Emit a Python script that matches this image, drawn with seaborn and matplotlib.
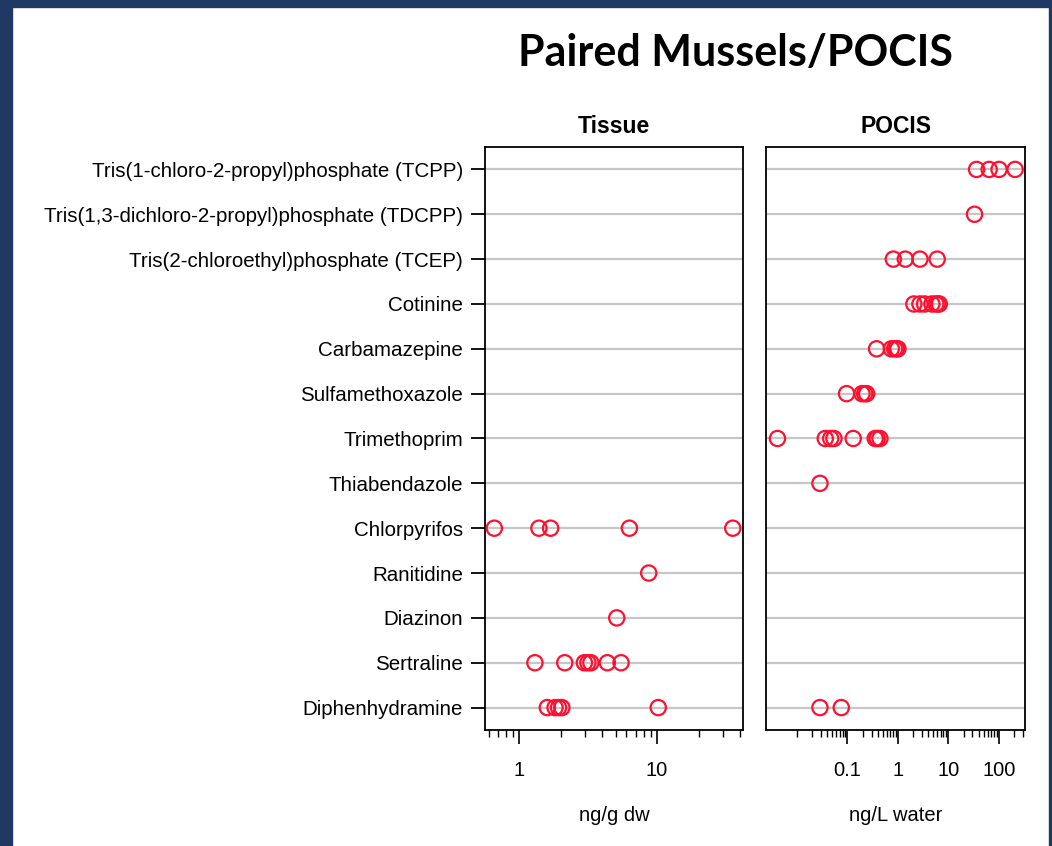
import pandas as pd
import seaborn as sns
import matplotlib.pyplot as plt
import numpy as np
from matplotlib.ticker import FixedLocator, NullFormatter, FixedFormatter
from matplotlib.patches import Rectangle

# compounds, top to bottom
compounds = [
    'Tris(1-chloro-2-propyl)phosphate (TCPP)',
    'Tris(1,3-dichloro-2-propyl)phosphate (TDCPP)',
    'Tris(2-chloroethyl)phosphate (TCEP)',
    'Cotinine',
    'Carbamazepine',
    'Sulfamethoxazole',
    'Trimethoprim',
    'Thiabendazole',
    'Chlorpyrifos',
    'Ranitidine',
    'Diazinon',
    'Sertraline',
    'Diphenhydramine',
]

# tissue concentrations (ng/g dw)
tissue_chlorpyrifos = [0.66, 1.39, 1.69, 6.3, 35.4]
tissue_ranitidine = [8.7]
tissue_diazinon = [5.1]
tissue_sertraline = [1.30, 2.14, 2.97, 3.15, 3.31, 4.36, 5.48]
tissue_diphenhydramine = [1.60, 1.82, 1.93, 2.04, 10.2]

# POCIS concentrations (ng/L water)
pocis_tcpp = [36.2, 64.3, 101, 210]
pocis_tdcpp = [33.0]
pocis_tcep = [0.81, 1.40, 2.73, 6.0]
pocis_cotinine = [2.07, 2.73, 3.38, 4.71, 5.65, 6.2, 6.6]
pocis_carbamazepine = [0.378, 0.74, 0.86, 0.94, 1.0]
pocis_sulfamethoxazole = [0.096, 0.194, 0.219, 0.24]
pocis_trimethoprim = [0.0041, 0.0363, 0.0465, 0.054, 0.130, 0.355, 0.389, 0.44]
pocis_thiabendazole = [0.0285]
pocis_diphenhydramine = [0.0285, 0.0754]

tissue = {
    'Chlorpyrifos': tissue_chlorpyrifos,
    'Ranitidine': tissue_ranitidine,
    'Diazinon': tissue_diazinon,
    'Sertraline': tissue_sertraline,
    'Diphenhydramine': tissue_diphenhydramine,
}
pocis = {
    compounds[0]: pocis_tcpp,
    compounds[1]: pocis_tdcpp,
    compounds[2]: pocis_tcep,
    'Cotinine': pocis_cotinine,
    'Carbamazepine': pocis_carbamazepine,
    'Sulfamethoxazole': pocis_sulfamethoxazole,
    'Trimethoprim': pocis_trimethoprim,
    'Thiabendazole': pocis_thiabendazole,
    'Diphenhydramine': pocis_diphenhydramine,
}


def to_long(d):
    rows = [(k, v) for k, vals in d.items() for v in vals]
    return pd.DataFrame(rows, columns=['compound', 'value'])


df_tissue = to_long(tissue)
df_pocis = to_long(pocis)

sns.set_theme(style='white')
plt.rcParams['font.family'] = ['Liberation Sans', 'DejaVu Sans']
plt.rcParams['text.color'] = 'black'
plt.rcParams['xtick.color'] = 'black'
plt.rcParams['ytick.color'] = 'black'
plt.rcParams['axes.labelcolor'] = 'black'

fig = plt.figure(figsize=(10.52, 8.46), dpi=100)
W, H = 1052, 846

# slide border
navy = '#203864'
fig.patches.append(Rectangle((0, 0), 12 / W, 1, transform=fig.transFigure, color=navy, zorder=0))
fig.patches.append(Rectangle((0, 1 - 7 / H), 1, 7 / H, transform=fig.transFigure, color=navy, zorder=0))
fig.patches.append(Rectangle((1 - 3 / W, 0), 3 / W, 1, transform=fig.transFigure, color=navy, zorder=0))

ax1 = fig.add_axes([485 / W, 1 - 730 / H, 258 / W, 583 / H])
ax2 = fig.add_axes([766 / W, 1 - 730 / H, 259 / W, 583 / H])

pt_kw = dict(jitter=False, size=11, color='red', facecolors='none',
             edgecolor='#ff1030', linewidth=1.6, zorder=3)

for ax, data, xlim, major, minor, labels, title, xlabel in [
    (ax1, df_tissue, (0.565, 42), [1, 10],
     [0.6, 0.7, 0.8, 0.9, 2, 3, 4, 5, 6, 7, 8, 9, 20, 30, 40],
     ['1', '10'], 'Tissue', 'ng/g dw'),
    (ax2, df_pocis, (0.00243, 330), [0.1, 1, 10, 100],
     [0.01, 0.02, 0.03, 0.04, 0.05, 0.06, 0.07, 0.08, 0.09,
      0.2, 0.3, 0.4, 0.5, 0.6, 0.7, 0.8, 0.9,
      2, 3, 4, 5, 6, 7, 8, 9, 20, 30, 40, 50, 60, 70, 80, 90, 200, 300],
     ['0.1', '1', '10', '100'], 'POCIS', 'ng/L water'),
]:
    sns.stripplot(data=data, x='value', y='compound', order=compounds,
                  log_scale=True, ax=ax, **pt_kw)
    ax.set_xlim(*xlim)
    ax.set_ylim(12.5, -0.5)
    ax.xaxis.set_major_locator(FixedLocator(major))
    ax.xaxis.set_major_formatter(FixedFormatter(labels))
    ax.xaxis.set_minor_locator(FixedLocator(minor))
    ax.xaxis.set_minor_formatter(NullFormatter())
    ax.tick_params(axis='x', which='major', length=10, width=1.2, color='black',
                   bottom=True, labelsize=14.5, pad=12)
    ax.tick_params(axis='x', which='minor', length=5, width=1.0, color='black', bottom=True)
    ax.grid(axis='y', color='#c6c6c6', linewidth=1.6, zorder=0)
    ax.set_axisbelow(True)
    for s in ax.spines.values():
        s.set_color('black')
        s.set_linewidth(1.3)
    ax.set_title(title, fontsize=16.5, fontweight='bold', pad=10, color='black')
    ax.set_xlabel(xlabel, fontsize=14.5, labelpad=19)
    ax.set_ylabel('')

ax1.tick_params(axis='y', left=True, length=10, width=1.3, color='black',
                labelsize=14.8, pad=6)
ax2.tick_params(axis='y', left=False, labelleft=False)

fig.text(736 / W, 1 - 53 / H, 'Paired Mussels/POCIS', fontsize=31, fontweight='bold',
         family=['Lato', 'DejaVu Sans'], ha='center', va='center', color='black')

fig.savefig('out.png', dpi=100, facecolor='white')
